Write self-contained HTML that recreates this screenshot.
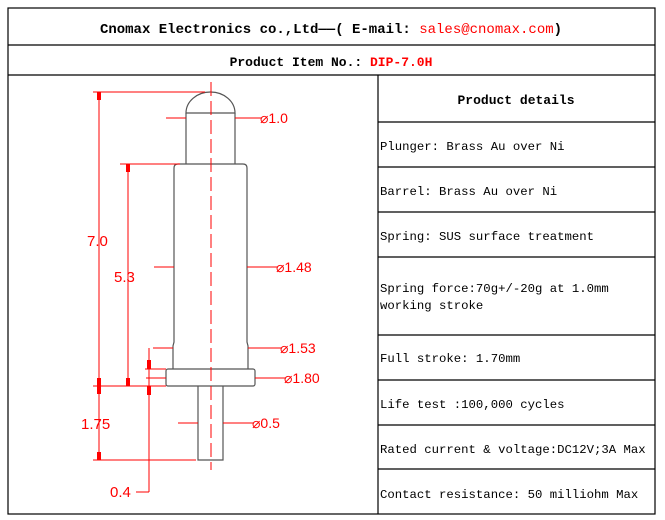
<!DOCTYPE html>
<html><head><meta charset="utf-8"><style>
html,body{margin:0;padding:0;background:#fff;width:665px;height:520px;overflow:hidden}
svg{display:block}
.m{font-family:"Liberation Mono","Noto Sans CJK SC",monospace}
</style></head><body>
<svg width="665" height="520" xmlns="http://www.w3.org/2000/svg">
<g stroke="#000" stroke-width="1.2" fill="none">
<rect x="8" y="8" width="647" height="506"/>
<line x1="8" y1="45" x2="655" y2="45"/>
<line x1="8" y1="75" x2="655" y2="75"/>
<line x1="378" y1="75" x2="378" y2="514"/>
<line x1="378" y1="122" x2="655" y2="122"/>
<line x1="378" y1="167" x2="655" y2="167"/>
<line x1="378" y1="212" x2="655" y2="212"/>
<line x1="378" y1="257" x2="655" y2="257"/>
<line x1="378" y1="335" x2="655" y2="335"/>
<line x1="378" y1="380" x2="655" y2="380"/>
<line x1="378" y1="425" x2="655" y2="425"/>
<line x1="378" y1="469" x2="655" y2="469"/>
</g>
<g class="m" font-size="14" font-weight="bold" text-anchor="middle">
<text x="331" y="33">Cnomax Electronics co.,Ltd——( E-mail: <tspan fill="#f00" font-weight="normal">sales@cnomax.com</tspan>)</text>
<text x="331" y="66" font-size="13">Product Item No.: <tspan fill="#f00">DIP-7.0H</tspan></text>
<text x="516" y="104" font-size="13">Product details</text>
</g>
<g class="m" font-size="12.3">
<text x="380" y="150">Plunger: Brass Au over Ni</text>
<text x="380" y="195">Barrel: Brass Au over Ni</text>
<text x="380" y="240">Spring: SUS surface treatment</text>
<text x="380" y="292">Spring force:70g+/-20g at 1.0mm</text>
<text x="380" y="309">working stroke</text>
<text x="380" y="362">Full stroke: 1.70mm</text>
<text x="380" y="408">Life test :100,000 cycles</text>
<text x="380" y="453">Rated current &amp; voltage:DC12V;3A Max</text>
<text x="380" y="498">Contact resistance: 50 milliohm Max</text>
</g>
<g stroke="#555" stroke-width="1.2" fill="none">
<path d="M186,113 A24.5,21 0 0 1 235,113 Z"/>
<path d="M186,113 V164 M235,113 V164"/>
<path d="M178,164 H243 Q247,164 247,168 V342 L248,346 V369 M178,164 Q174,164 174,168 V342 L173,346 V369"/>
<rect x="166" y="369" width="89" height="17" rx="2"/>
<path d="M198,386 V460 H223 V386"/>
</g>
<g stroke="#f00" stroke-width="1" fill="none">
<line x1="211" y1="82" x2="211" y2="470" stroke-dasharray="14,5"/>
<line x1="93" y1="92" x2="205" y2="92"/>
<line x1="99" y1="92" x2="99" y2="460"/>
<line x1="120" y1="164" x2="180" y2="164"/>
<line x1="128" y1="164" x2="128" y2="386"/>
<line x1="93" y1="386" x2="166" y2="386"/>
<line x1="93" y1="460" x2="196" y2="460"/>
<line x1="149" y1="348" x2="149" y2="492"/>
<line x1="136" y1="492" x2="149" y2="492"/>
<line x1="145" y1="369" x2="166" y2="369"/>
<line x1="146" y1="378" x2="166" y2="378"/>
<line x1="166" y1="118" x2="186" y2="118"/><line x1="235" y1="118" x2="262" y2="118"/>
<line x1="154" y1="267" x2="174" y2="267"/><line x1="247" y1="267" x2="278" y2="267"/>
<line x1="153" y1="348" x2="173" y2="348"/><line x1="248" y1="348" x2="282" y2="348"/>
<line x1="255" y1="378" x2="286" y2="378"/>
<line x1="178" y1="423" x2="198" y2="423"/><line x1="223" y1="423" x2="254" y2="423"/>
</g>
<g fill="#f00">
<polygon points="97,92 101,92 101,100 97,100"/>
<polygon points="97,386 101,386 101,378 97,378"/>
<polygon points="97,386 101,386 101,394 97,394"/>
<polygon points="97,460 101,460 101,452 97,452"/>
<polygon points="126,164 130,164 130,172 126,172"/>
<polygon points="126,386 130,386 130,378 126,378"/>
<polygon points="147,360 151,360 151,369 147,369"/>
<polygon points="147,386 151,386 151,395 147,395"/>
</g>
<g fill="#f00" font-family="'Liberation Sans',sans-serif" font-size="15">
<text x="87" y="246">7.0</text>
<text x="114" y="282">5.3</text>
<text x="81" y="429">1.75</text>
<text x="110" y="497">0.4</text>
<g font-size="14">
<text x="260" y="123">⌀1.0</text>
<text x="276" y="272">⌀1.48</text>
<text x="280" y="353">⌀1.53</text>
<text x="284" y="383">⌀1.80</text>
<text x="252" y="428">⌀0.5</text>
</g>
</g>
</svg>
</body></html>
